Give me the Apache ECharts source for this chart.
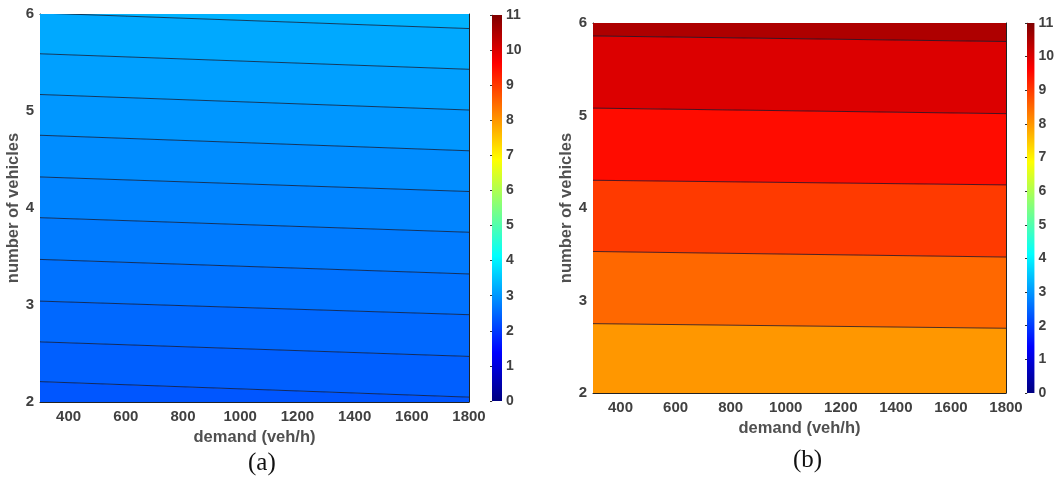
<!DOCTYPE html>
<html>
<head>
<meta charset="utf-8">
<style>
  html, body {margin: 0; padding: 0; background: #fff;}
  #main {width: 1057px; height: 483px;}
</style>
<script src="https://cdn.jsdelivr.net/npm/echarts@6/dist/echarts.min.js"></script>
</head>
<body>
<div id="main"></div>
<script>
// data
const demandRange = [300, 1800];
const vehicleRange = [2, 6];
const demandTicks = [400, 600, 800, 1000, 1200, 1400, 1600, 1800];
const colorRange = [0, 11];

// (a) contour lines: vehicles at demand=300 and demand=1800
const linesA_left = [2.21, 2.62, 3.04, 3.47, 3.90, 4.32, 4.75, 5.17, 5.59, 6.01];
const linesA_right = [2.05, 2.47, 2.90, 3.32, 3.75, 4.17, 4.59, 5.01, 5.43, 5.85];
const levelsA = [2.3, 2.4, 2.5, 2.6, 2.7, 2.8, 2.9, 3.0, 3.1, 3.2, 3.3];

// (b) contour lines
const linesB_left = [2.75, 3.53, 4.30, 5.08, 5.86];
const linesB_right = [2.70, 3.47, 4.25, 5.02, 5.80];
const levelsB = [8.0, 8.5, 9.0, 9.5, 10.0, 10.5];

const textColor = '#404040';
const font = 'Liberation Sans, Arial, sans-serif';

function jet(v) {
  const t = (v - colorRange[0]) / (colorRange[1] - colorRange[0]);
  const c = x => Math.round(255 * Math.max(0, Math.min(1, x)));
  const r = c(Math.min(4 * t - 1.5, -4 * t + 4.5));
  const g = c(Math.min(4 * t - 0.5, -4 * t + 3.5));
  const b = c(Math.min(4 * t + 0.5, -4 * t + 2.5));
  return 'rgb(' + r + ',' + g + ',' + b + ')';
}

const jetStops = [0, 0.125, 0.375, 0.625, 0.875, 1].map(t => ({
  offset: t,
  color: jet(colorRange[0] + t * (colorRange[1] - colorRange[0]))
}));

function bands(left, right, levels) {
  return levels.map((lv, i) => [
    i === 0 ? vehicleRange[0] : left[i - 1],
    i === 0 ? vehicleRange[0] : right[i - 1],
    i === levels.length - 1 ? vehicleRange[1] + 0.5 : left[i],
    i === levels.length - 1 ? vehicleRange[1] + 0.5 : right[i],
    lv,
    i === levels.length - 1 ? 0 : 1
  ]);
}

function renderBand(params, api) {
  const x0 = demandRange[0], x1 = demandRange[1];
  const lo0 = api.value(0), lo1 = api.value(1), hi0 = api.value(2), hi1 = api.value(3);
  const pts = [api.coord([x0, lo0]), api.coord([x1, lo1]), api.coord([x1, hi1]), api.coord([x0, hi0])];
  const children = [{
    type: 'polygon',
    shape: {points: pts},
    style: {fill: jet(api.value(4)), stroke: jet(api.value(4)), lineWidth: 0.5}
  }];
  if (api.value(5)) {
    children.push({
      type: 'polyline',
      shape: {points: [pts[3], pts[2]]},
      style: {stroke: 'rgba(20,20,40,0.75)', lineWidth: 1, fill: null},
      z2: 10
    });
  }
  return {type: 'group', children};
}

function renderBar(params, api) {
  const p0 = api.coord([0, colorRange[1]]);
  const p1 = api.coord([1, colorRange[0]]);
  return {
    type: 'rect',
    shape: {x: p0[0], y: p0[1], width: p1[0] - p0[0], height: p1[1] - p0[1]},
    style: {
      fill: new echarts.graphic.LinearGradient(0, 1, 0, 0, jetStops)
    }
  };
}

const labelStyle = {color: textColor, fontSize: 15, fontWeight: 'bold', fontFamily: font};
const nameStyle = {color: '#505050', fontSize: 16.5, fontWeight: 'bold', fontFamily: font};
const frameLine = {show: true, lineStyle: {color: '#222', width: 1}};
const inTick = {show: true, inside: true, length: 4, lineStyle: {color: '#222'}};
const demandTick = {...inTick, customValues: demandTicks};

function plotAxes(gi, xGap, yGap) {
  const xAxes = [{
    gridIndex: gi, type: 'value', min: demandRange[0], max: demandRange[1],
    name: 'demand (veh/h)', nameLocation: 'middle', nameGap: xGap, nameTextStyle: nameStyle,
    axisLine: frameLine, axisTick: demandTick, splitLine: {show: false},
    axisLabel: {...labelStyle, margin: 7, customValues: demandTicks, formatter: v => String(v)}
  }, {
    gridIndex: gi, type: 'value', position: 'top', min: demandRange[0], max: demandRange[1],
    axisLine: frameLine, axisTick: demandTick,
    axisLabel: {show: false, customValues: demandTicks}, splitLine: {show: false}
  }];
  const yAxes = [{
    gridIndex: gi, type: 'value', min: vehicleRange[0], max: vehicleRange[1], interval: 1,
    name: 'number of vehicles', nameLocation: 'middle', nameGap: yGap, nameTextStyle: nameStyle,
    axisLine: frameLine, axisTick: inTick, splitLine: {show: false},
    axisLabel: {...labelStyle, margin: 6}
  }, {
    gridIndex: gi, type: 'value', position: 'right', min: vehicleRange[0], max: vehicleRange[1], interval: 1,
    axisLine: frameLine, axisTick: inTick, axisLabel: {show: false}, splitLine: {show: false}
  }];
  return {xAxes, yAxes};
}

function barAxes(gi) {
  return {
    xAxes: [{gridIndex: gi, type: 'value', min: 0, max: 1, show: false}],
    yAxes: [{
      gridIndex: gi, type: 'value', position: 'right', min: colorRange[0], max: colorRange[1], interval: 1,
      axisLine: {show: true, lineStyle: {color: '#555', width: 0.5}},
      axisTick: {show: true, inside: true, length: 2, lineStyle: {color: '#333'}},
      splitLine: {show: false},
      axisLabel: {...labelStyle, fontSize: 14, margin: 4}
    }]
  };
}

const pa = plotAxes(0, 27, 15);
const ca = barAxes(1);
const pb = plotAxes(2, 25, 14);
const cb = barAxes(3);

const xAxis = [...pa.xAxes, ...ca.xAxes, ...pb.xAxes, ...cb.xAxes];
const yAxis = [...pa.yAxes, ...ca.yAxes, ...pb.yAxes, ...cb.yAxes];

const chart = echarts.init(document.getElementById('main'));
chart.setOption({
  animation: false,
  backgroundColor: '#fff',
  grid: [
    {left: 40, top: 14, width: 429, height: 388},
    {left: 492, top: 15, width: 10, height: 386},
    {left: 593, top: 23, width: 413, height: 370},
    {left: 1027, top: 23, width: 10, height: 370}
  ],
  xAxis,
  yAxis,
  series: [
    {type: 'custom', xAxisIndex: 0, yAxisIndex: 0, clip: true, renderItem: renderBand,
      data: bands(linesA_left, linesA_right, levelsA)},
    {type: 'custom', xAxisIndex: 2, yAxisIndex: 2, renderItem: renderBar, data: [[0, colorRange[1]]]},
    {type: 'custom', xAxisIndex: 3, yAxisIndex: 3, clip: true, renderItem: renderBand,
      data: bands(linesB_left, linesB_right, levelsB)},
    {type: 'custom', xAxisIndex: 5, yAxisIndex: 5, renderItem: renderBar, data: [[0, colorRange[1]]]}
  ],
  graphic: [
    {type: 'text', left: 248, top: 451, style: {text: '(a)', font: '25px "Liberation Serif", "Times New Roman", serif', fill: '#111'}},
    {type: 'text', left: 793, top: 448, style: {text: '(b)', font: '25px "Liberation Serif", "Times New Roman", serif', fill: '#111'}}
  ]
});
</script>
</body>
</html>
